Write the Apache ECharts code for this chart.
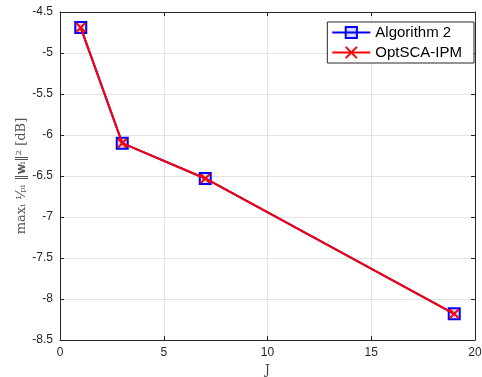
<!DOCTYPE html>
<html>
<head>
<meta charset="utf-8">
<script src="https://cdn.jsdelivr.net/npm/echarts@6/dist/echarts.min.js"></script>
<style>
  html, body { margin: 0; padding: 0; background: #fff; }
  #chart { width: 482px; height: 377px; }
</style>
</head>
<body>
<div id="chart"></div>
<script>
// Number of users J and the resulting max normalized beam power
const jValues = [1, 3, 7, 19];
const algorithm2 = [-4.69, -6.10, -6.53, -8.18];
const optScaIpm = [-4.69, -6.10, -6.53, -8.18];
const seriesNames = ['Algorithm 2', 'OptSCA-IPM'];

const xTicks = { min: 0, max: 20, interval: 5 };
const yTicks = { min: -8.5, max: -4.5, interval: 0.5 };

const axisColor = '#262626';
const gridColor = '#e3e3e3';
const crossPath = 'path://M0,0L10,10M10,0L0,10';

const chart = echarts.init(document.getElementById('chart'), null, { renderer: 'canvas' });

const baseAxis = {
  type: 'value',
  axisLine: { show: true, onZero: false, lineStyle: { color: axisColor, width: 1 } },
  axisTick: { show: true, inside: true, length: 4, lineStyle: { color: axisColor } },
  axisLabel: { color: axisColor, fontFamily: 'Liberation Sans, Arial, sans-serif', fontSize: 12 },
  splitLine: { show: true, lineStyle: { color: gridColor, width: 1 } }
};

chart.setOption({
  animation: false,
  backgroundColor: '#ffffff',
  grid: { left: 60, right: 7, top: 12, bottom: 37, containLabel: false, outerBoundsMode: 'none' },
  xAxis: [
    Object.assign({}, baseAxis, {
      position: 'bottom',
      min: xTicks.min, max: xTicks.max, interval: xTicks.interval,
      axisLabel: Object.assign({}, baseAxis.axisLabel, { margin: 7 }),
      name: 'J',
      nameLocation: 'middle',
      nameGap: 25,
      nameMoveOverlap: false,
      nameTextStyle: { fontFamily: 'DejaVu Serif, Liberation Serif, serif', fontSize: 12, color: '#444' }
    }),
    Object.assign({}, baseAxis, {
      position: 'top',
      min: xTicks.min, max: xTicks.max, interval: xTicks.interval,
      axisLabel: { show: false },
      splitLine: { show: false }
    })
  ],
  yAxis: [
    Object.assign({}, baseAxis, {
      position: 'left',
      min: yTicks.min, max: yTicks.max, interval: yTicks.interval,
      axisLabel: Object.assign({}, baseAxis.axisLabel, { margin: 7 }),
      name: 'maxᵢ ¹⁄ₚᵢ ‖𝐰ᵢ‖² [dB]',
      nameLocation: 'middle',
      nameGap: 32,
      nameMoveOverlap: false,
      nameRotate: 90,
      nameTextStyle: { fontFamily: 'DejaVu Serif, Liberation Serif, serif', fontSize: 13, color: '#555' }
    }),
    Object.assign({}, baseAxis, {
      position: 'right',
      min: yTicks.min, max: yTicks.max, interval: yTicks.interval,
      axisLabel: { show: false },
      splitLine: { show: false }
    })
  ],
  legend: {
    right: 8,
    top: 22,
    orient: 'vertical',
    itemWidth: 38,
    itemHeight: 14,
    itemGap: 5,
    padding: [3, 12, 3, 4],
    backgroundColor: '#fff',
    borderColor: axisColor,
    borderWidth: 1,
    borderRadius: 0,
    textStyle: { fontFamily: 'Liberation Sans, Arial, sans-serif', fontSize: 15, color: '#000' },
    data: seriesNames
  },
  series: [
    {
      name: seriesNames[0],
      type: 'line',
      data: jValues.map((j, i) => [j, algorithm2[i]]),
      symbol: 'rect',
      symbolSize: 11,
      showAllSymbol: true,
      lineStyle: { color: '#0000ff', width: 2 },
      itemStyle: { color: 'rgba(0,0,255,0.15)', borderColor: '#0000ff', borderWidth: 2 },
      z: 2
    },
    {
      name: seriesNames[1],
      type: 'line',
      data: jValues.map((j, i) => [j, optScaIpm[i]]),
      symbol: crossPath,
      symbolSize: 9,
      showAllSymbol: true,
      lineStyle: { color: '#ff0000', width: 2 },
      itemStyle: { color: '#ff0000', borderColor: '#ff0000', borderWidth: 2 },
      z: 3
    }
  ]
});
</script>
</body>
</html>
